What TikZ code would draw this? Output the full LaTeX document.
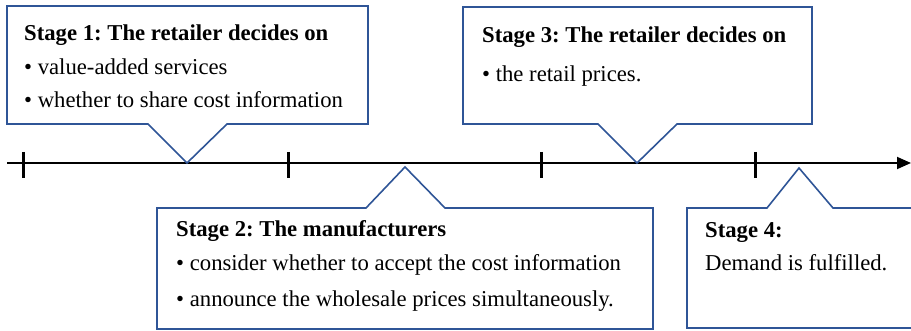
\documentclass[tikz,border=0pt]{standalone}
\usepackage{fontspec}
\setmainfont{Liberation Serif}
\usetikzlibrary{arrows.meta}
\definecolor{stageblue}{HTML}{2F5597}
\frenchspacing

\begin{document}
\begin{tikzpicture}[x=1pt,y=-1pt,
  callout/.style={draw=stageblue,line width=1.6pt,line join=miter,fill=white},
  stagetxt/.style={anchor=base west,inner sep=0pt,font=\fontsize{22.7}{34}\selectfont}]
\clip (0,0) rectangle (911,331);
% time axis with four ticks
\draw[line width=1.8pt,-{Triangle[length=14pt,width=12pt]}] (7,163) -- (911,163);
\foreach \tx in {23,288,541,755}
  \draw[line width=3pt] (\tx,152) -- (\tx,178);
% callout boxes, the pointer tip sits on the axis
\draw[callout] (7,6) -- (368,6) -- (368,124) -- (227,124) -- (187,163) -- (148,124) -- (7,124) -- cycle;
\draw[callout] (463,7) -- (812,7) -- (812,124) -- (677,124) -- (637,163) -- (598,124) -- (463,124) -- cycle;
\draw[callout] (157,208) -- (366,208) -- (405,167) -- (445,208) -- (653,208) -- (653,329) -- (157,329) -- cycle;
\draw[callout] (687,208) -- (767,208) -- (799,168) -- (833,208) -- (925,208) -- (925,328) -- (687,328) -- cycle;
% stage 1
\node[stagetxt] (s1title) at (24,41) {\textbf{Stage 1: The retailer decides on}};
\node[stagetxt] (s1a) at (24,75) {\textbullet\ value-added services};
\node[stagetxt] (s1b) at (24,108) {\textbullet\ whether to share cost information};
% stage 2
\node[stagetxt] (s2title) at (176,237) {\textbf{Stage 2: The manufacturers}};
\node[stagetxt] (s2a) at (176,271) {\textbullet\ consider whether to accept the cost information};
\node[stagetxt] (s2b) at (176,307) {\textbullet\ announce the wholesale prices simultaneously.};
% stage 3
\node[stagetxt] (s3title) at (482,43) {\textbf{Stage 3: The retailer decides on}};
\node[stagetxt] (s3a) at (482,82) {\textbullet\ the retail prices.};
% stage 4
\node[stagetxt] (s4title) at (705,238) {\textbf{Stage 4:}};
\node[stagetxt] (s4a) at (705,271) {Demand is fulfilled.};
\end{tikzpicture}
\end{document}
